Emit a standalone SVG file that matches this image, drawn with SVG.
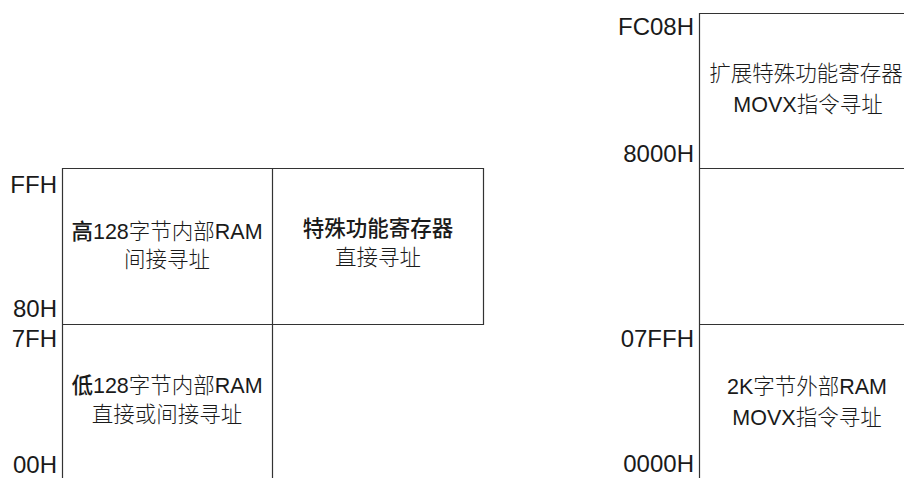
<svg xmlns="http://www.w3.org/2000/svg" width="904" height="478" viewBox="0 0 904 478">
<style>
.ln{stroke:#333;stroke-width:1.2;fill:none}
.lb{font-family:"Liberation Sans","Noto Sans CJK SC",sans-serif;font-size:24px;fill:#1a1a1a;text-anchor:end}
.tx{font-family:"Liberation Sans","Noto Sans CJK SC",sans-serif;font-size:21.5px;fill:#1a1a1a;text-anchor:middle;font-weight:300}
.b{font-weight:500}
</style>
<rect width="904" height="478" fill="#fff"/>
<g id="connectors">
<path class="ln" d="M62.5,478 V168.5 H483.5 V324.5 H62.5 M272.5,168.5 V478"/>
<path class="ln" d="M699.5,478 V13.5 H904 M699.5,168.5 H904 M699.5,324.5 H904"/>
</g>
<g id="labels-left">
<text class="lb" x="57" y="193">FFH</text>
<text class="lb" x="57" y="317">80H</text>
<text class="lb" x="57" y="347">7FH</text>
<text class="lb" x="57" y="473">00H</text>
</g>
<g id="labels-right">
<text class="lb" x="694" y="35">FC08H</text>
<text class="lb" x="694" y="162">8000H</text>
<text class="lb" x="694" y="347">07FFH</text>
<text class="lb" x="694" y="472">0000H</text>
</g>
<g id="high128">
<text class="tx" x="167" y="239"><tspan class="b">高</tspan>128字节内部RAM</text>
<text class="tx" x="167" y="267">间接寻址</text>
</g>
<g id="sfr">
<text class="tx b" x="378" y="236">特殊功能寄存器</text>
<text class="tx" x="378" y="265">直接寻址</text>
</g>
<g id="low128">
<text class="tx" x="167" y="393"><tspan class="b">低</tspan>128字节内部RAM</text>
<text class="tx" x="167" y="422">直接或间接寻址</text>
</g>
<g id="xsfr">
<text class="tx" x="806" y="81">扩展特殊功能寄存器</text>
<text class="tx" x="808" y="112">MOVX指令寻址</text>
</g>
<g id="xram">
<text class="tx" x="807" y="394">2K字节外部RAM</text>
<text class="tx" x="807" y="425">MOVX指令寻址</text>
</g>
</svg>
